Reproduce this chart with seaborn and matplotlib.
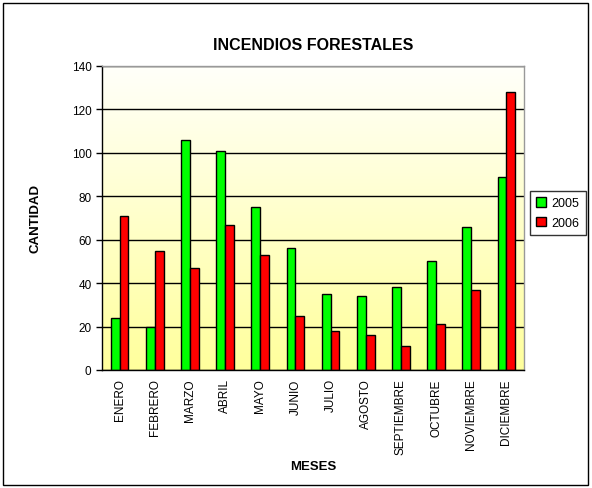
import numpy as np
import pandas as pd
import matplotlib.pyplot as plt
import matplotlib.patches as mpatches
import seaborn as sns

meses = ["ENERO", "FEBRERO", "MARZO", "ABRIL", "MAYO", "JUNIO", "JULIO",
         "AGOSTO", "SEPTIEMBRE", "OCTUBRE", "NOVIEMBRE", "DICIEMBRE"]
v2005 = [24, 20, 106, 101, 75, 56, 35, 34, 38, 50, 66, 89]
v2006 = [71, 55, 47, 67, 53, 25, 18, 16, 11, 21, 37, 128]

df = pd.DataFrame({
    "mes": meses * 2,
    "cantidad": v2005 + v2006,
    "anio": ["2005"] * 12 + ["2006"] * 12,
})

sns.set_style("white")
plt.rcParams["font.family"] = ["Liberation Sans", "DejaVu Sans"]
plt.rcParams.update({"text.color": "black", "axes.labelcolor": "black",
                     "xtick.color": "black", "ytick.color": "black"})

fig = plt.figure(figsize=(5.92, 4.89), dpi=100)
ax = fig.add_axes([102 / 592, 1 - 371 / 489, 422 / 592, 304 / 489])

# yellow gradient background of the plot area
grad = np.linspace(0, 1, 256).reshape(-1, 1)
cmap = plt.matplotlib.colors.LinearSegmentedColormap.from_list("bg", ["#ffff9c", "#fffffa"])
ax.imshow(grad, cmap=cmap, aspect="auto", extent=[0, 1, 0, 1],
          transform=ax.transAxes, origin="lower", zorder=0)
ax.patch.set_visible(False)

sns.barplot(data=df, x="mes", y="cantidad", hue="anio",
            palette=["#00ff00", "#ff0000"], saturation=1, width=0.5,
            edgecolor="black", linewidth=1, ax=ax, legend=True, zorder=2)

ax.set_ylim(0, 140)
ax.set_xlim(-0.5, 11.5)
ax.set_yticks(range(0, 141, 20))
ax.yaxis.grid(True, color="black", linewidth=1)
ax.set_axisbelow(True)

ax.set_xticks(np.arange(12))
ax.set_xticklabels(meses, rotation=90, fontsize=8.5)
ax.set_xticks(np.arange(-0.5, 12, 1), minor=True)
ax.tick_params(axis="x", which="major", length=0, pad=6)
ax.tick_params(axis="x", which="minor", length=4, width=1, color="black", direction="out")
ax.tick_params(axis="y", length=4, width=1, color="black", direction="out", left=True, labelsize=8.5)

for s in ["left", "bottom"]:
    ax.spines[s].set_color("black")
    ax.spines[s].set_linewidth(1)
for s in ["top", "right"]:
    ax.spines[s].set_visible(True)
    ax.spines[s].set_color("#999999")
    ax.spines[s].set_linewidth(1)

ax.set_xlabel("MESES", fontsize=9.5, fontweight="heavy", labelpad=4)
ax.set_ylabel("CANTIDAD", fontsize=9.5, fontweight="heavy", labelpad=22)
ax.set_title("INCENDIOS FORESTALES", fontsize=11.5, fontweight="heavy", pad=12)

leg = ax.legend(loc="center left", bbox_to_anchor=(530 / 592, 1 - 214 / 489),
                bbox_transform=fig.transFigure, frameon=True, fancybox=False,
                edgecolor="black", fontsize=9, handlelength=0.8, handleheight=0.8,
                handletextpad=0.4, borderpad=0.5, labelspacing=0.6, borderaxespad=0)
leg.get_frame().set_linewidth(1)

fig.patches.append(mpatches.Rectangle((3 / 592, 3 / 489), 585 / 592, 482 / 489,
                                      transform=fig.transFigure, fill=False,
                                      edgecolor="black", linewidth=1))

fig.savefig("out.png", dpi=100, facecolor="white")
